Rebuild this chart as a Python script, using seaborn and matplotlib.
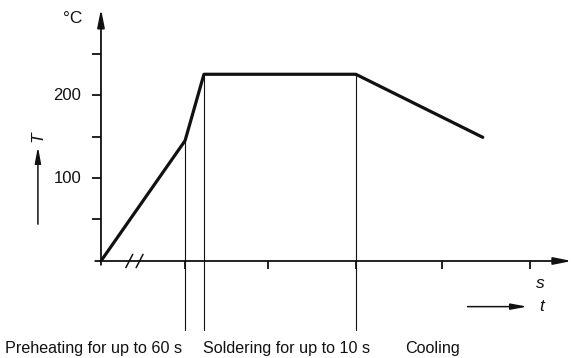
import matplotlib
matplotlib.use("Agg")
import matplotlib.pyplot as plt
import seaborn as sns
import pandas as pd

# Soldering temperature profile (time in axis units, temperature in °C)
time_pts = [0.0, 0.98, 1.2, 2.97, 4.45]
temp_pts = [0, 145, 225, 225, 149]

y_ticks = [50, 100, 150, 200, 250]
y_tick_labels = {100: "100", 200: "200"}
x_ticks = [0.98, 1.95, 2.97, 3.97, 5]
phase_marks = [0.98, 1.2, 2.97]
phase_labels = ["Preheating for up to 60 s", "Soldering for up to 10 s", "Cooling"]
phase_label_x = [-1.12, 1.19, 3.54]

sns.set_theme(style="white")
plt.rcParams["font.family"] = ["Liberation Sans", "DejaVu Sans"]

fig = plt.figure(figsize=(5.8, 3.58), dpi=100)
ax = fig.add_axes([0, 0, 1, 1])

ink = "#111111"

# Temperature curve
df = pd.DataFrame({"time": time_pts, "temp": temp_pts})
sns.lineplot(data=df, x="time", y="temp", ax=ax, color=ink, lw=2.3,
             sort=False, estimator=None)
ax.set_xlim(-1.177, 5.583)
ax.set_ylim(-116.9, 314.5)
ax.axis("off")

# Axes with arrow heads
ax.annotate("", xy=(0, 307), xytext=(0, -8),
            arrowprops=dict(arrowstyle="-|>,head_length=0.9,head_width=0.18",
                            color=ink, lw=1.3))
ax.annotate("", xy=(5.52, 0), xytext=(-0.1, 0),
            arrowprops=dict(arrowstyle="-|>,head_length=0.9,head_width=0.18",
                            color=ink, lw=1.3))

# Tick marks
for yt in y_ticks:
    ax.plot([-0.11, 0], [yt, yt], color=ink, lw=1.3, solid_capstyle="butt")
    if yt in y_tick_labels:
        ax.text(-0.23, yt, y_tick_labels[yt], ha="right", va="center",
                fontsize=12, color=ink)
for xt in x_ticks:
    ax.plot([xt, xt], [0, -10], color=ink, lw=1.3, solid_capstyle="butt")

# Axis break marks
for bx in [0.33, 0.45]:
    ax.plot([bx - 0.04, bx + 0.04], [-8, 8], color=ink, lw=1.1)

# Phase boundaries
for px in phase_marks:
    idx = time_pts.index(px)
    ax.plot([px, px], [temp_pts[idx], -83], color=ink, lw=0.8)

# Phase labels
for lx, lab in zip(phase_label_x, phase_labels):
    ax.text(lx, -105, lab, ha="left", va="center", fontsize=11.6, color=ink)

# Axis labels
ax.text(-0.33, 292, "°C", ha="center", va="center", fontsize=12.5, color=ink)
ax.text(5.12, -27, "s", ha="center", va="center", fontsize=12.5,
        style="italic", color=ink)
ax.annotate("", xy=(5.0, -55), xytext=(4.24, -55),
            arrowprops=dict(arrowstyle="-|>,head_length=0.8,head_width=0.15",
                            color=ink, lw=1.1))
ax.text(5.14, -55, "t", ha="center", va="center", fontsize=12.5,
        style="italic", color=ink)
ax.annotate("", xy=(-0.735, 141), xytext=(-0.735, 41),
            arrowprops=dict(arrowstyle="-|>,head_length=0.8,head_width=0.15",
                            color=ink, lw=1.1))
ax.text(-0.735, 143, "T", ha="center", va="bottom", fontsize=12.5,
        style="italic", rotation=90, color=ink)

fig.savefig("out.png", dpi=100, facecolor="white")
